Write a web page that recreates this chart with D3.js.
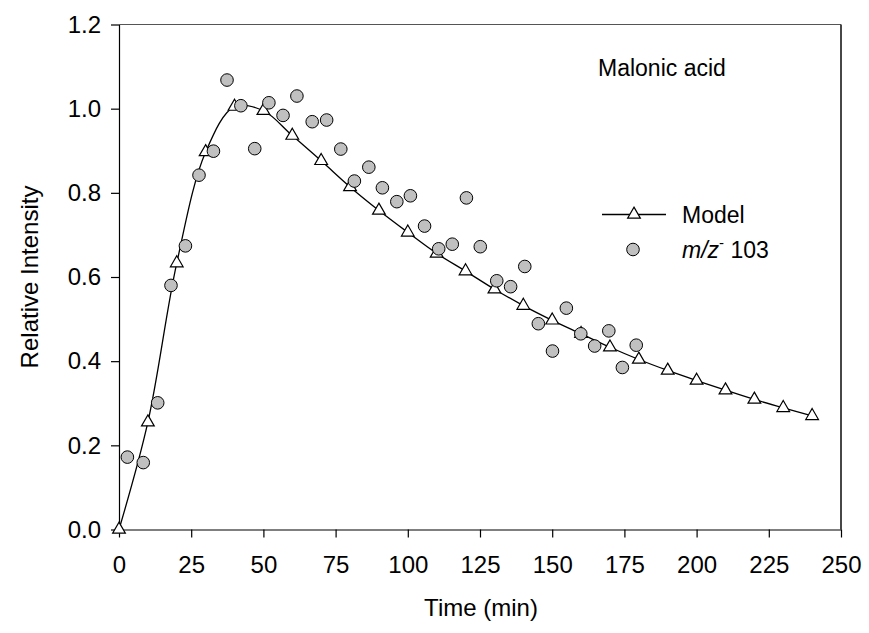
<!DOCTYPE html>
<html><head><meta charset="utf-8">
<script src="https://cdn.jsdelivr.net/npm/d3@7"></script>
<style>body{margin:0;background:#fff}svg{display:block;font-family:Arial,"Liberation Sans",sans-serif}</style>
</head><body><svg id="c" width="869" height="633"></svg>
<script>
const modelTime = [0,10,20,30,40,50,60,70,80,90,100,110,120,130,140,150,160,170,180,190,200,210,220,230,240];
const modelValue = [0,0.255,0.633,0.897,1.005,0.995,0.936,0.876,0.814,0.758,0.706,0.656,0.614,0.571,0.532,0.497,0.465,0.433,0.404,0.378,0.354,0.331,0.309,0.289,0.270];
const obsTime = [2.9,8.4,13.4,18.0,23.0,27.7,32.7,37.4,42.2,47.0,51.9,56.8,61.6,66.9,71.9,76.8,81.5,86.5,91.2,96.2,100.9,105.8,110.7,115.4,120.3,125.1,130.8,135.6,140.5,145.2,150.1,154.9,159.9,164.7,169.6,174.3,179.1];
const obsValue = [0.172,0.159,0.301,0.580,0.674,0.842,0.899,1.068,1.007,0.905,1.014,0.984,1.030,0.969,0.973,0.904,0.828,0.861,0.812,0.779,0.793,0.721,0.667,0.678,0.788,0.672,0.591,0.577,0.625,0.489,0.424,0.526,0.465,0.436,0.472,0.385,0.438];
const xTicks = [0,25,50,75,100,125,150,175,200,225,250];
const yTicks = [0,0.2,0.4,0.6,0.8,1.0,1.2];

const svg = d3.select("#c");
const x = d3.scaleLinear().domain([0,250]).range([119,841]);
const y = d3.scaleLinear().domain([0,1.2]).range([529.5,24.5]);
const fs = 24;

svg.append("line").attr("x1",119).attr("x2",841).attr("y1",y(1.2)).attr("y2",y(1.2)).attr("stroke","#555").attr("stroke-width",1.2);
svg.append("line").attr("x1",841).attr("x2",841).attr("y1",y(1.2)).attr("y2",y(0)).attr("stroke","#333").attr("stroke-width",1.8);

const xa = svg.append("g").attr("transform",`translate(0,${y(0)})`)
  .call(d3.axisBottom(x).tickValues(xTicks).tickFormat(d3.format("d")).tickSize(8).tickSizeOuter(0).tickPadding(18));
const ya = svg.append("g").attr("transform",`translate(${x(0)},0)`)
  .call(d3.axisLeft(y).tickValues(yTicks).tickFormat(d3.format(".1f")).tickSize(8).tickSizeOuter(0).tickPadding(10));
[xa,ya].forEach(g=>{
  g.selectAll("text").attr("font-size",fs).attr("font-family","Arial,'Liberation Sans',sans-serif").attr("fill","#000");
  g.selectAll("line,path").attr("stroke","#000").attr("stroke-width",1.2);
});

svg.append("text").attr("x",481).attr("y",616).attr("text-anchor","middle").attr("font-size",fs).text("Time (min)");
svg.append("text").attr("transform","translate(38,277) rotate(-90)").attr("text-anchor","middle").attr("font-size",fs).text("Relative Intensity");
svg.append("text").attr("x",598).attr("y",76).attr("font-size",23).text("Malonic acid");

const line = d3.line().x((d,i)=>x(modelTime[i])).y(d=>y(d)).curve(d3.curveCatmullRom.alpha(0.5));
svg.append("path").datum(modelValue).attr("d",line).attr("fill","none").attr("stroke","#000").attr("stroke-width",1.3);
const tri = d3.symbol().type(d3.symbolTriangle).size(70);
svg.append("g").selectAll("path").data(modelValue).join("path")
  .attr("d",tri).attr("transform",(d,i)=>`translate(${x(modelTime[i])},${y(d)})`)
  .attr("fill","#fff").attr("stroke","#000").attr("stroke-width",1.2);

svg.append("g").selectAll("circle").data(obsValue).join("circle")
  .attr("cx",(d,i)=>x(obsTime[i])).attr("cy",d=>y(d)).attr("r",6.3)
  .attr("fill","#c0c0c0").attr("stroke","#000").attr("stroke-width",1);

svg.append("line").attr("x1",602).attr("x2",666).attr("y1",214.5).attr("y2",214.5).attr("stroke","#000").attr("stroke-width",1.3);
svg.append("path").attr("d",tri).attr("transform","translate(634,214.5)").attr("fill","#fff").attr("stroke","#000").attr("stroke-width",1.2);
svg.append("text").attr("x",682).attr("y",222.5).attr("font-size",23).text("Model");
svg.append("circle").attr("cx",633).attr("cy",249.5).attr("r",6.3).attr("fill","#c0c0c0").attr("stroke","#000").attr("stroke-width",1);
const t2 = svg.append("text").attr("x",682).attr("y",257.5).attr("font-size",23);
t2.append("tspan").attr("font-style","italic").text("m/z");
t2.append("tspan").attr("font-size",15).attr("dy",-10).text("-");
t2.append("tspan").attr("dy",10).text(" 103");
</script></body></html>
